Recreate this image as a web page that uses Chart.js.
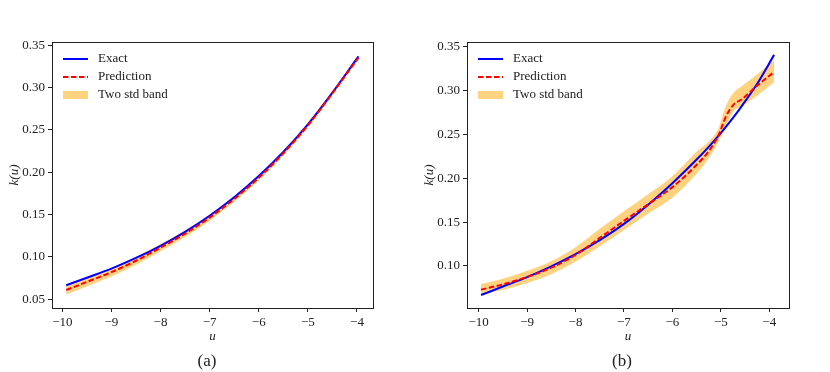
<!DOCTYPE html>
<html lang="en">
  <head>
    <meta charset="utf-8" />
    <title>k(u) exact vs prediction</title>
    <style>
      * { margin: 0; padding: 0; box-sizing: border-box; }
      body { width: 830px; height: 372px; background: #ffffff; position: relative; overflow: hidden; }
      .panel { position: absolute; top: 0; width: 415px; height: 372px; }
      #panelA { left: 0; }
      #panelB { left: 415px; }
    </style>
  </head>
  <body>
    <div class="panel" id="panelA"><canvas id="chartA" width="415" height="372"></canvas></div>
    <div class="panel" id="panelB"><canvas id="chartB" width="415" height="372"></canvas></div>

    <script src="https://cdn.jsdelivr.net/npm/chart.js@4.4.1/dist/chart.umd.min.js"></script>
    <script>
      // panel (a)
      const uA = [-9.92, -9.5, -9, -8.5, -8, -7.5, -7, -6.5, -6, -5.5, -5, -4.5, -3.97];
      const exactA = [0.0665, 0.0755, 0.0862, 0.0988, 0.1132, 0.1297, 0.1487, 0.1705, 0.1955, 0.224, 0.2567, 0.2942, 0.337];
      const predA = [0.061, 0.0705, 0.082, 0.0955, 0.111, 0.1275, 0.1465, 0.1685, 0.1935, 0.2225, 0.2555, 0.2935, 0.3355];
      const lowA = [0.0555, 0.0653, 0.077, 0.0908, 0.1067, 0.1235, 0.1429, 0.1652, 0.1905, 0.2197, 0.2529, 0.291, 0.333];
      const highA = [0.0665, 0.0757, 0.087, 0.1002, 0.1153, 0.1315, 0.1501, 0.1718, 0.1965, 0.2253, 0.2581, 0.296, 0.338];

      // panel (b)
      const uB = [-9.95, -9.5, -9, -8.5, -8, -7.5, -7, -6.5, -6, -5.5, -5.25, -5.05, -4.9, -4.75, -4.55, -4.25, -3.9];
      const exactB = [0.0668, 0.0765, 0.0872, 0.0995, 0.1135, 0.1295, 0.148, 0.170, 0.1945, 0.2215, 0.236, 0.2485, 0.2585, 0.269, 0.284, 0.308, 0.341];
      const predB = [0.073, 0.079, 0.0875, 0.098, 0.1125, 0.132, 0.1515, 0.1705, 0.190, 0.2155, 0.231, 0.249, 0.270, 0.2834, 0.291, 0.306, 0.3215];
      const lowB = [0.0675, 0.0725, 0.0805, 0.0905, 0.105, 0.1225, 0.141, 0.160, 0.178, 0.2055, 0.223, 0.2416, 0.258, 0.2758, 0.283, 0.2945, 0.310];
      const highB = [0.0795, 0.0855, 0.0945, 0.1055, 0.1215, 0.1425, 0.1625, 0.182, 0.2025, 0.2305, 0.242, 0.257, 0.282, 0.297, 0.306, 0.319, 0.335];

      // ticks
      const xTicks = [-10, -9, -8, -7, -6, -5, -4];
      const yTicksA = [0.05, 0.10, 0.15, 0.20, 0.25, 0.30, 0.35];
      const yTicksB = [0.10, 0.15, 0.20, 0.25, 0.30, 0.35];
      const legendLabels = ["Exact", "Prediction", "Two std band"];

      const SERIF = "'Liberation Serif', 'DejaVu Serif', serif";
      const BLUE = "#0000ff";
      const RED = "#ff0000";
      const BAND = "rgba(255, 165, 0, 0.5)";
      const INK = "#222222";

      const pts = (us, vs) => us.map((u, i) => ({ x: u, y: vs[i] }));

      // frame, legend inside the axes, and the (a)/(b) caption
      const decor = {
        id: "decor",
        afterDraw(chart, args, opts) {
          const { ctx, chartArea: a } = chart;
          ctx.save();
          ctx.strokeStyle = INK;
          ctx.lineWidth = 1;
          ctx.strokeRect(Math.round(a.left) + 0.5, Math.round(a.top) + 0.5,
            Math.round(a.right - a.left), Math.round(a.bottom - a.top));

          const x0 = a.left + 11, x1 = a.left + 36, tx = a.left + 46;
          ctx.font = "13px " + SERIF;
          ctx.textBaseline = "middle";
          ctx.fillStyle = INK;
          legendLabels.forEach((lab, i) => {
            const y = a.top + 17 + 18 * i;
            if (i === 2) {
              ctx.fillStyle = BAND;
              ctx.fillRect(x0, y - 4, x1 - x0, 8);
            } else {
              ctx.beginPath();
              ctx.strokeStyle = i === 0 ? BLUE : RED;
              ctx.lineWidth = 2;
              ctx.setLineDash(i === 0 ? [] : [5.5, 2.5]);
              ctx.moveTo(x0, y);
              ctx.lineTo(x1, y);
              ctx.stroke();
              ctx.setLineDash([]);
            }
            ctx.fillStyle = INK;
            ctx.fillText(lab, tx, y);
          });

          ctx.font = "17px " + SERIF;
          ctx.textAlign = "center";
          ctx.fillText(opts.caption, opts.captionX, 362);
          ctx.restore();
        },
      };

      function makeChart(id, us, exact, pred, low, high, yTicks, yMin, yMax, xMin, xMax, caption, padRight) {
        const smooth = { pointRadius: 0, cubicInterpolationMode: "monotone", tension: 0.4 };
        return new Chart(document.getElementById(id), {
          type: "line",
          plugins: [decor],
          data: {
            datasets: [
              { ...smooth, data: pts(us, low), borderWidth: 0, fill: false, order: 3 },
              { ...smooth, data: pts(us, high), borderWidth: 0, fill: "-1", backgroundColor: BAND, order: 3 },
              { ...smooth, label: "Exact", data: pts(us, exact), borderColor: BLUE, borderWidth: 2, order: 1 },
              { ...smooth, label: "Prediction", data: pts(us, pred), borderColor: RED, borderWidth: 2, borderDash: [5.5, 2.5], order: 0 },
            ],
          },
          options: {
            responsive: false,
            animation: false,
            layout: { padding: { top: 42, right: padRight, bottom: 24, left: 0 } },
            plugins: {
              legend: { display: false },
              tooltip: { enabled: false },
              decor: { caption: caption, captionX: 207 },
            },
            scales: {
              x: {
                type: "linear",
                min: xMin,
                max: xMax,
                afterBuildTicks: (s) => { s.ticks = xTicks.map((v) => ({ value: v })); },
                afterFit: (s) => { s.height = 40; },
                border: { display: false },
                grid: { drawOnChartArea: false, tickLength: 4, color: INK },
                ticks: {
                  padding: 3,
                  color: INK,
                  font: { family: SERIF, size: 13 },
                  maxRotation: 0,
                  callback: (v) => String(v).replace("-", "\u2212"),
                },
                title: {
                  display: true,
                  text: "u",
                  color: INK,
                  padding: { top: 0, bottom: 3.5 },
                  font: { family: SERIF, size: 13, style: "italic" },
                },
              },
              y: {
                type: "linear",
                min: yMin,
                max: yMax,
                afterBuildTicks: (s) => { s.ticks = yTicks.map((v) => ({ value: v })); },
                afterFit: (s) => { s.width = 52; },
                border: { display: false },
                grid: { drawOnChartArea: false, tickLength: 4, color: INK },
                ticks: {
                  padding: 3,
                  color: INK,
                  font: { family: SERIF, size: 13 },
                  callback: (v) => Number(v).toFixed(2),
                },
                title: {
                  display: true,
                  text: "k(u)",
                  color: INK,
                  padding: { top: 7, bottom: 0 },
                  font: { family: SERIF, size: 13, style: "italic" },
                },
              },
            },
          },
        });
      }

      makeChart("chartA", uA, exactA, predA, lowA, highA, yTicksA, 0.0397, 0.3539, -10.21, -3.674, "(a)", 42);
      makeChart("chartB", uB, exactB, predB, lowB, highB, yTicksB, 0.052, 0.3557, -10.24, -3.593, "(b)", 41);
    </script>
  </body>
</html>
